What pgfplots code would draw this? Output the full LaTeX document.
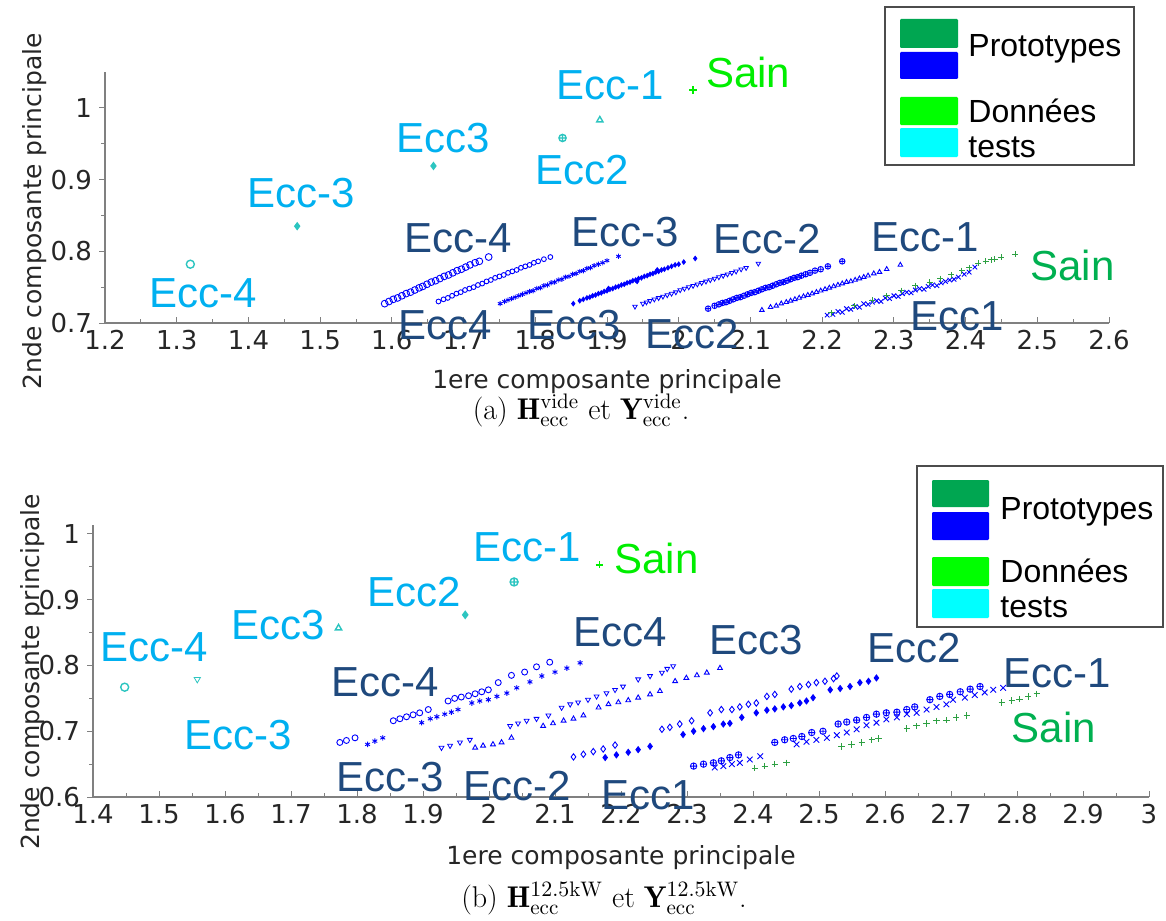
\documentclass[border=0pt]{standalone}
\usepackage{pgfplots}
\pgfplotsset{compat=1.18}
\usepackage{fontspec}
\newfontfamily\lab{Liberation Sans}
\newfontfamily\tck{DejaVu Sans}
\definecolor{dark}{HTML}{1F497D}
\definecolor{lblue}{HTML}{00B0F0}
\definecolor{bgreen}{HTML}{00EE00}
\definecolor{pgreen}{HTML}{00B050}
\definecolor{tealm}{HTML}{2CC5C0}
\definecolor{mgreen}{HTML}{2DA042}
\definecolor{axgray}{HTML}{808080}
\definecolor{leggreen}{HTML}{00A651}
\definecolor{legblue}{RGB}{0,0,255}
\definecolor{legbgreen}{RGB}{0,255,0}
\definecolor{legcyan}{RGB}{0,255,255}
\tikzset{lbl/.style={font=\lab\fontsize{21}{21}\selectfont, inner sep=0pt, anchor=center}}
\pgfplotsset{
  mystyle/.style={
    scale only axis,
    axis x line*=bottom, axis y line*=left,
    axis line style={axgray, line width=0.6pt, -},
    x axis line style={-}, y axis line style={-},
    every tick/.style={axgray, line width=0.5pt},
    xtick align=inside, ytick align=outside,
    major tick length=3pt, minor tick length=2pt,
    minor x tick num=1, minor y tick num=1,
    tick label style={font=\fontsize{13}{15}\tck, text=black!85},
    /pgf/number format/assume math mode=true,
    label style={font=\fontsize{12.5}{14}\tck, text=black!85},
    clip=false,
  },
  pm/.style={only marks, blue, mark options={line width=0.45pt}},
  tm/.style={only marks, tealm, mark options={line width=0.7pt}},
}
\begin{document}
\begin{tikzpicture}
\useasboundingbox (0,0) rectangle (583pt,-460pt);
% ---------------- (a) ----------------
\begin{axis}[mystyle, at={(52.5pt,-161.5pt)}, anchor=south west,
  width=502pt, height=125.5pt,
  xmin=1.2, xmax=2.6, ymin=0.7, ymax=1.05,
  xtick={1.2,1.3,1.4,1.5,1.6,1.7,1.8,1.9,2,2.1,2.2,2.3,2.4,2.5,2.6},
  ytick={0.7,0.8,0.9,1},
  xlabel={1ere composante principale},
  ylabel={2nde composante principale},
  xlabel style={at={(axis description cs:0.5,-0.235)}, anchor=center},
  ylabel style={at={(axis description cs:-0.07,0.446)}, anchor=center},
]
\addplot[pm, mark=o, mark size=1.7pt] coordinates {
(1.590,0.727) (1.596,0.730) (1.602,0.733) (1.608,0.735) (1.614,0.738) (1.620,0.741)
(1.626,0.743) (1.632,0.746) (1.638,0.749) (1.643,0.751) (1.649,0.754) (1.655,0.757)
(1.661,0.759) (1.667,0.762) (1.673,0.765) (1.679,0.767) (1.685,0.770) (1.691,0.773)
(1.697,0.775) (1.703,0.778) (1.709,0.781) (1.716,0.784) (1.722,0.786) (1.735,0.792)};
\addplot[pm, mark=o, mark size=1.2pt] coordinates {
(1.665,0.730) (1.672,0.733) (1.678,0.735) (1.684,0.738) (1.690,0.741) (1.696,0.743)
(1.702,0.746) (1.708,0.748) (1.714,0.750) (1.720,0.753) (1.726,0.755) (1.732,0.758)
(1.738,0.760) (1.744,0.763) (1.750,0.765) (1.756,0.767) (1.762,0.770) (1.768,0.772)
(1.774,0.774) (1.780,0.777) (1.786,0.779) (1.792,0.781) (1.798,0.784) (1.804,0.786)
(1.812,0.789) (1.821,0.792)};
\addplot[pm, mark=asterisk, mark size=1.3pt] coordinates {
(1.751,0.727) (1.757,0.730) (1.762,0.732) (1.767,0.734) (1.772,0.736) (1.777,0.738)
(1.782,0.740) (1.787,0.742) (1.792,0.744) (1.797,0.745) (1.802,0.748) (1.807,0.749)
(1.812,0.752) (1.817,0.753) (1.822,0.756) (1.827,0.757) (1.832,0.760) (1.837,0.761)
(1.842,0.764) (1.847,0.765) (1.852,0.768) (1.857,0.769) (1.862,0.772) (1.867,0.773)
(1.872,0.776) (1.877,0.777) (1.882,0.780) (1.888,0.782) (1.894,0.784) (1.900,0.787)
(1.916,0.793)};
\addplot[pm, mark=diamond*, mark size=1.1pt] coordinates {
(1.853,0.727) (1.862,0.731) (1.867,0.733) (1.872,0.735) (1.876,0.736) (1.880,0.738)
(1.884,0.739) (1.888,0.741) (1.892,0.742) (1.896,0.744) (1.900,0.745) (1.904,0.747)
(1.908,0.748) (1.912,0.750) (1.916,0.751) (1.920,0.753) (1.924,0.754) (1.928,0.756)
(1.932,0.757) (1.936,0.759) (1.940,0.760) (1.944,0.762) (1.948,0.763) (1.952,0.765)
(1.956,0.766) (1.960,0.768) (1.964,0.769) (1.968,0.771) (1.972,0.772) (1.976,0.774)
(1.980,0.775) (1.985,0.777) (1.990,0.779) (1.995,0.781) (2.000,0.782) (2.007,0.785)
(2.023,0.790) (1.902,0.748) (1.942,0.758) (1.970,0.774)};
\addplot[pm, mark=triangle, mark size=1.3pt, mark options={rotate=180}] coordinates {
(1.939,0.723) (1.950,0.727) (1.955,0.729) (1.960,0.731) (1.966,0.733) (1.972,0.735)
(1.978,0.737) (1.984,0.739) (1.990,0.741) (1.996,0.743) (2.002,0.746) (2.008,0.748)
(2.014,0.750) (2.020,0.752) (2.026,0.754) (2.032,0.756) (2.038,0.758) (2.044,0.760)
(2.050,0.762) (2.056,0.764) (2.062,0.766) (2.068,0.768) (2.074,0.770) (2.080,0.772)
(2.087,0.775) (2.094,0.777) (2.111,0.783)};
\addplot[pm, mark=oplus, mark size=1.4pt] coordinates {
(2.041,0.720) (2.050,0.724) (2.056,0.726) (2.061,0.728) (2.066,0.729) (2.071,0.731)
(2.076,0.733) (2.081,0.735) (2.086,0.736) (2.091,0.738) (2.096,0.740) (2.101,0.742)
(2.106,0.743) (2.111,0.745) (2.116,0.747) (2.121,0.749) (2.126,0.750) (2.131,0.752)
(2.136,0.754) (2.141,0.756) (2.146,0.757) (2.151,0.759) (2.156,0.761) (2.161,0.763)
(2.166,0.764) (2.171,0.766) (2.177,0.768) (2.183,0.770) (2.190,0.773) (2.198,0.775)
(2.208,0.779) (2.228,0.786)};
\addplot[pm, mark=triangle, mark size=1.3pt] coordinates {
(2.116,0.718) (2.128,0.722) (2.136,0.724) (2.143,0.727) (2.150,0.729) (2.156,0.731)
(2.162,0.733) (2.168,0.735) (2.174,0.737) (2.180,0.739) (2.186,0.741) (2.192,0.743)
(2.198,0.745) (2.204,0.747) (2.210,0.749) (2.216,0.751) (2.222,0.753) (2.228,0.755)
(2.234,0.757) (2.240,0.758) (2.246,0.760) (2.252,0.762) (2.258,0.764) (2.264,0.766)
(2.272,0.769) (2.280,0.771) (2.290,0.775) (2.309,0.781)};
\addplot[pm, mark=x, mark size=1.6pt] coordinates {
(2.207,0.711) (2.215,0.712) (2.222,0.716) (2.228,0.715) (2.234,0.720) (2.240,0.719)
(2.246,0.723) (2.252,0.722) (2.258,0.727) (2.264,0.726) (2.270,0.729) (2.276,0.731)
(2.282,0.730) (2.288,0.735) (2.294,0.734) (2.300,0.738) (2.306,0.737) (2.312,0.741)
(2.318,0.743) (2.324,0.742) (2.330,0.746) (2.336,0.748) (2.342,0.747) (2.348,0.751)
(2.354,0.753) (2.360,0.752) (2.366,0.756) (2.372,0.758) (2.378,0.760) (2.384,0.761)
(2.390,0.764) (2.398,0.768) (2.405,0.771) (2.413,0.778)};
\addplot[only marks, mgreen, mark=+, mark size=1.5pt, mark options={line width=0.5pt}] coordinates {
(2.213,0.714) (2.245,0.724) (2.270,0.732) (2.290,0.738) (2.310,0.745) (2.330,0.752)
(2.350,0.757) (2.365,0.762) (2.380,0.767) (2.395,0.773) (2.405,0.777) (2.418,0.783)
(2.428,0.786) (2.436,0.788) (2.441,0.789) (2.450,0.792) (2.469,0.796)};
% test data
\addplot[tm, mark=o, mark size=2pt] coordinates {(1.319,0.782)};
\addplot[tm, mark=diamond*, mark size=1.6pt] coordinates {(1.468,0.835)};
\addplot[tm, mark=diamond*, mark size=1.6pt] coordinates {(1.658,0.919)};
\addplot[tm, mark=oplus, mark size=1.8pt] coordinates {(1.838,0.958)};
\addplot[tm, mark=triangle, mark size=1.8pt] coordinates {(1.890,0.983)};
\addplot[only marks, bgreen, mark=+, mark size=1.8pt, mark options={line width=0.7pt}] coordinates {(2.020,1.025)};
% labels
\node[lbl, text=dark] at (axis cs:1.692,0.8185) {Ecc-4};
\node[lbl, text=dark] at (axis cs:1.926,0.827) {Ecc-3};
\node[lbl, text=dark] at (axis cs:2.123,0.817) {Ecc-2};
\node[lbl, text=dark] at (axis cs:2.344,0.820) {Ecc-1};
\node[lbl, text=pgreen] at (axis cs:2.549,0.780) {Sain};
\node[lbl, text=dark] at (axis cs:1.675,0.697) {Ecc4};
\node[lbl, text=dark] at (axis cs:1.854,0.697) {Ecc3};
\node[lbl, text=dark] at (axis cs:2.019,0.685) {Ecc2};
\node[lbl, text=dark] at (axis cs:2.388,0.710) {Ecc1};
\node[lbl, text=lblue] at (axis cs:1.337,0.742) {Ecc-4};
\node[lbl, text=lblue] at (axis cs:1.473,0.881) {Ecc-3};
\node[lbl, text=lblue] at (axis cs:1.671,0.958) {Ecc3};
\node[lbl, text=lblue] at (axis cs:1.865,0.913) {Ecc2};
\node[lbl, text=lblue] at (axis cs:1.904,1.031) {Ecc-1};
\node[lbl, text=bgreen] at (axis cs:2.097,1.050) {Sain};
\end{axis}
% ---------------- (b) ----------------
\begin{axis}[mystyle, at={(46.5pt,-398.5pt)}, anchor=south west,
  width=528pt, height=136pt,
  xmin=1.4, xmax=3, ymin=0.6, ymax=1.0136,
  xtick={1.4,1.5,1.6,1.7,1.8,1.9,2,2.1,2.2,2.3,2.4,2.5,2.6,2.7,2.8,2.9,3},
  ytick={0.6,0.7,0.8,0.9,1},
  xlabel={1ere composante principale},
  ylabel={2nde composante principale},
  xlabel style={at={(axis description cs:0.5,-0.224)}, anchor=center},
  ylabel style={at={(axis description cs:-0.057,0.46)}, anchor=center},
]
\addplot[pm, mark=o, mark size=1.5pt] coordinates {
(1.774,0.683) (1.784,0.686) (1.797,0.690)
(1.855,0.716) (1.865,0.719) (1.875,0.722) (1.885,0.725) (1.895,0.728) (1.908,0.733)
(1.938,0.746) (1.948,0.750) (1.958,0.752) (1.969,0.754) (1.979,0.757) (1.989,0.760) (1.999,0.763) (2.014,0.774)
(2.034,0.785) (2.054,0.790) (2.072,0.798) (2.092,0.805)};
\addplot[pm, mark=asterisk, mark size=1.4pt] coordinates {
(1.816,0.680) (1.827,0.685) (1.839,0.690)
(1.898,0.713) (1.911,0.719) (1.921,0.722) (1.933,0.726) (1.943,0.729) (1.953,0.733)
(1.974,0.743) (1.986,0.746) (1.999,0.748) (2.012,0.753) (2.027,0.758) (2.042,0.766) (2.062,0.775)
(2.080,0.784) (2.100,0.790) (2.118,0.796) (2.138,0.804)};
\addplot[pm, mark=triangle, mark size=1.4pt, mark options={rotate=180}] coordinates {
(1.928,0.675) (1.941,0.678) (1.956,0.683) (1.971,0.687)
(2.032,0.708) (2.044,0.712) (2.057,0.716) (2.072,0.719) (2.090,0.724)
(2.110,0.736) (2.123,0.741) (2.135,0.744) (2.150,0.748) (2.163,0.753) (2.178,0.758) (2.191,0.763) (2.203,0.768)
(2.226,0.779) (2.244,0.784) (2.262,0.789) (2.270,0.795) (2.279,0.799)};
\addplot[pm, mark=triangle, mark size=1.4pt] coordinates {
(1.979,0.675) (1.991,0.678) (2.006,0.680) (2.019,0.683) (2.034,0.690)
(2.082,0.708) (2.097,0.712) (2.113,0.716) (2.128,0.719) (2.143,0.724)
(2.166,0.736) (2.181,0.741) (2.196,0.744) (2.211,0.747) (2.226,0.751) (2.244,0.756) (2.259,0.761)
(2.282,0.776) (2.299,0.781) (2.315,0.785) (2.330,0.789) (2.350,0.796)};
\addplot[pm, mark=diamond, mark size=1.6pt] coordinates {
(2.128,0.661) (2.143,0.665) (2.158,0.669) (2.173,0.673) (2.191,0.679)
(2.262,0.703) (2.274,0.706) (2.289,0.711) (2.307,0.716)
(2.335,0.728) (2.352,0.733) (2.368,0.733) (2.380,0.737) (2.393,0.741) (2.405,0.743) (2.421,0.753) (2.433,0.756)
(2.458,0.764) (2.471,0.768) (2.484,0.771) (2.496,0.774) (2.509,0.776) (2.522,0.780) (2.527,0.784)};
\addplot[pm, mark=diamond*, mark size=1.5pt] coordinates {
(2.176,0.660) (2.193,0.664) (2.211,0.668) (2.226,0.672) (2.244,0.677)
(2.294,0.695) (2.310,0.700) (2.325,0.704) (2.340,0.707) (2.355,0.711) (2.365,0.712)
(2.383,0.721) (2.405,0.728)
(2.421,0.732) (2.433,0.734) (2.446,0.737) (2.458,0.739) (2.471,0.743) (2.481,0.746) (2.491,0.751)
(2.517,0.763) (2.532,0.765) (2.547,0.768) (2.562,0.774) (2.575,0.776) (2.587,0.781)};
\addplot[pm, mark=oplus, mark size=1.6pt] coordinates {
(2.310,0.647) (2.325,0.650) (2.340,0.652) (2.352,0.655) (2.365,0.660) (2.378,0.664)
(2.433,0.683) (2.448,0.687) (2.461,0.689) (2.474,0.692) (2.489,0.698) (2.506,0.700)
(2.529,0.711) (2.542,0.714) (2.557,0.717) (2.572,0.721) (2.587,0.726) (2.602,0.728) (2.618,0.729) (2.633,0.733) (2.645,0.737)
(2.668,0.748) (2.683,0.753) (2.698,0.756) (2.714,0.760) (2.729,0.764) (2.744,0.768)};
\addplot[pm, mark=x, mark size=2pt] coordinates {
(2.342,0.645) (2.355,0.647) (2.368,0.650) (2.380,0.652) (2.395,0.657) (2.411,0.662)
(2.466,0.680) (2.481,0.684) (2.496,0.687) (2.512,0.690) (2.527,0.694) (2.542,0.698)
(2.557,0.703) (2.572,0.709) (2.587,0.713) (2.602,0.718) (2.618,0.721) (2.633,0.726) (2.648,0.728) (2.663,0.733) (2.678,0.737) (2.693,0.741)
(2.703,0.748) (2.721,0.751) (2.736,0.755) (2.751,0.759) (2.764,0.763) (2.779,0.766)};
\addplot[only marks, mgreen, mark=+, mark size=1.6pt, mark options={line width=0.5pt}] coordinates {
(2.403,0.644) (2.418,0.647) (2.433,0.650) (2.451,0.652)
(2.534,0.677) (2.549,0.680) (2.565,0.683) (2.580,0.687) (2.590,0.689)
(2.633,0.704) (2.648,0.708) (2.663,0.712) (2.678,0.716) (2.693,0.717) (2.708,0.721) (2.724,0.724)
(2.777,0.744) (2.792,0.747) (2.804,0.749) (2.817,0.753) (2.830,0.757)};
% test data
\addplot[tm, mark=o, mark size=2pt] coordinates {(1.448,0.767)};
\addplot[tm, mark=triangle, mark size=1.8pt, mark options={rotate=180}] coordinates {(1.558,0.779)};
\addplot[tm, mark=triangle, mark size=1.8pt] coordinates {(1.772,0.857)};
\addplot[tm, mark=diamond*, mark size=1.7pt] coordinates {(1.964,0.877)};
\addplot[tm, mark=oplus, mark size=2pt] coordinates {(2.038,0.927)};
\addplot[only marks, bgreen, mark=+, mark size=1.8pt, mark options={line width=0.7pt}] coordinates {(2.167,0.953)};
% labels
\node[lbl, text=lblue] at (axis cs:1.492,0.827) {Ecc-4};
\node[lbl, text=lblue] at (axis cs:1.620,0.694) {Ecc-3};
\node[lbl, text=lblue] at (axis cs:1.680,0.862) {Ecc3};
\node[lbl, text=lblue] at (axis cs:1.886,0.912) {Ecc2};
\node[lbl, text=lblue] at (axis cs:2.058,0.980) {Ecc-1};
\node[lbl, text=bgreen] at (axis cs:2.254,0.963) {Sain};
\node[lbl, text=dark] at (axis cs:1.842,0.774) {Ecc-4};
\node[lbl, text=dark] at (axis cs:2.198,0.850) {Ecc4};
\node[lbl, text=dark] at (axis cs:2.405,0.838) {Ecc3};
\node[lbl, text=dark] at (axis cs:2.644,0.827) {Ecc2};
\node[lbl, text=dark] at (axis cs:2.861,0.788) {Ecc-1};
\node[lbl, text=pgreen] at (axis cs:2.856,0.706) {Sain};
\node[lbl, text=dark] at (axis cs:1.850,0.630) {Ecc-3};
\node[lbl, text=dark] at (axis cs:2.042,0.617) {Ecc-2};
\node[lbl, text=dark] at (axis cs:2.241,0.603) {Ecc1};
\end{axis}
% ---------------- legends ----------------
\draw[black!70, line width=0.8pt, fill=white] (442.5pt,-3.5pt) rectangle (567pt,-82.5pt);
\fill[leggreen, rounded corners=0.6pt] (450pt,-9.5pt) rectangle (479pt,-24pt);
\fill[legblue, rounded corners=0.6pt] (450pt,-26pt) rectangle (479pt,-39.5pt);
\fill[legbgreen, rounded corners=0.6pt] (450pt,-48.5pt) rectangle (479pt,-62.5pt);
\fill[legcyan, rounded corners=0.6pt] (450pt,-64pt) rectangle (479pt,-78.5pt);
\node[font=\lab\fontsize{16}{16}\selectfont, anchor=base west, inner sep=0pt] at (484pt,-28.5pt) {Prototypes};
\node[font=\lab\fontsize{16}{16}\selectfont, anchor=base west, inner sep=0pt] at (484pt,-61pt) {Données};
\node[font=\lab\fontsize{16}{16}\selectfont, anchor=base west, inner sep=0pt] at (484pt,-78.5pt) {tests};
\draw[black!70, line width=0.8pt, fill=white] (458.5pt,-233pt) rectangle (581.5pt,-313.5pt);
\fill[leggreen, rounded corners=0.6pt] (466pt,-240pt) rectangle (494.5pt,-253.5pt);
\fill[legblue, rounded corners=0.6pt] (466pt,-256pt) rectangle (494.5pt,-270pt);
\fill[legbgreen, rounded corners=0.6pt] (466pt,-278.5pt) rectangle (494.5pt,-293pt);
\fill[legcyan, rounded corners=0.6pt] (466pt,-294.5pt) rectangle (494.5pt,-309pt);
\node[font=\lab\fontsize{16}{16}\selectfont, anchor=base west, inner sep=0pt] at (500pt,-259.5pt) {Prototypes};
\node[font=\lab\fontsize{16}{16}\selectfont, anchor=base west, inner sep=0pt] at (500pt,-291pt) {Données};
\node[font=\lab\fontsize{16}{16}\selectfont, anchor=base west, inner sep=0pt] at (500pt,-308.5pt) {tests};
% ---------------- captions ----------------
\node[anchor=base, inner sep=0pt, font=\fontsize{15}{18}\selectfont] at (290.5pt,-209.5pt)
  {(a) $\mathbf{H}^{\mathrm{vide}}_{\mathrm{ecc}}$ et $\mathbf{Y}^{\mathrm{vide}}_{\mathrm{ecc}}$.};
\node[anchor=base, inner sep=0pt, font=\fontsize{15}{18}\selectfont] at (302pt,-453.5pt)
  {(b) $\mathbf{H}^{12.5\mathrm{kW}}_{\mathrm{ecc}}$ et $\mathbf{Y}^{12.5\mathrm{kW}}_{\mathrm{ecc}}$.};
\end{tikzpicture}
\end{document}
